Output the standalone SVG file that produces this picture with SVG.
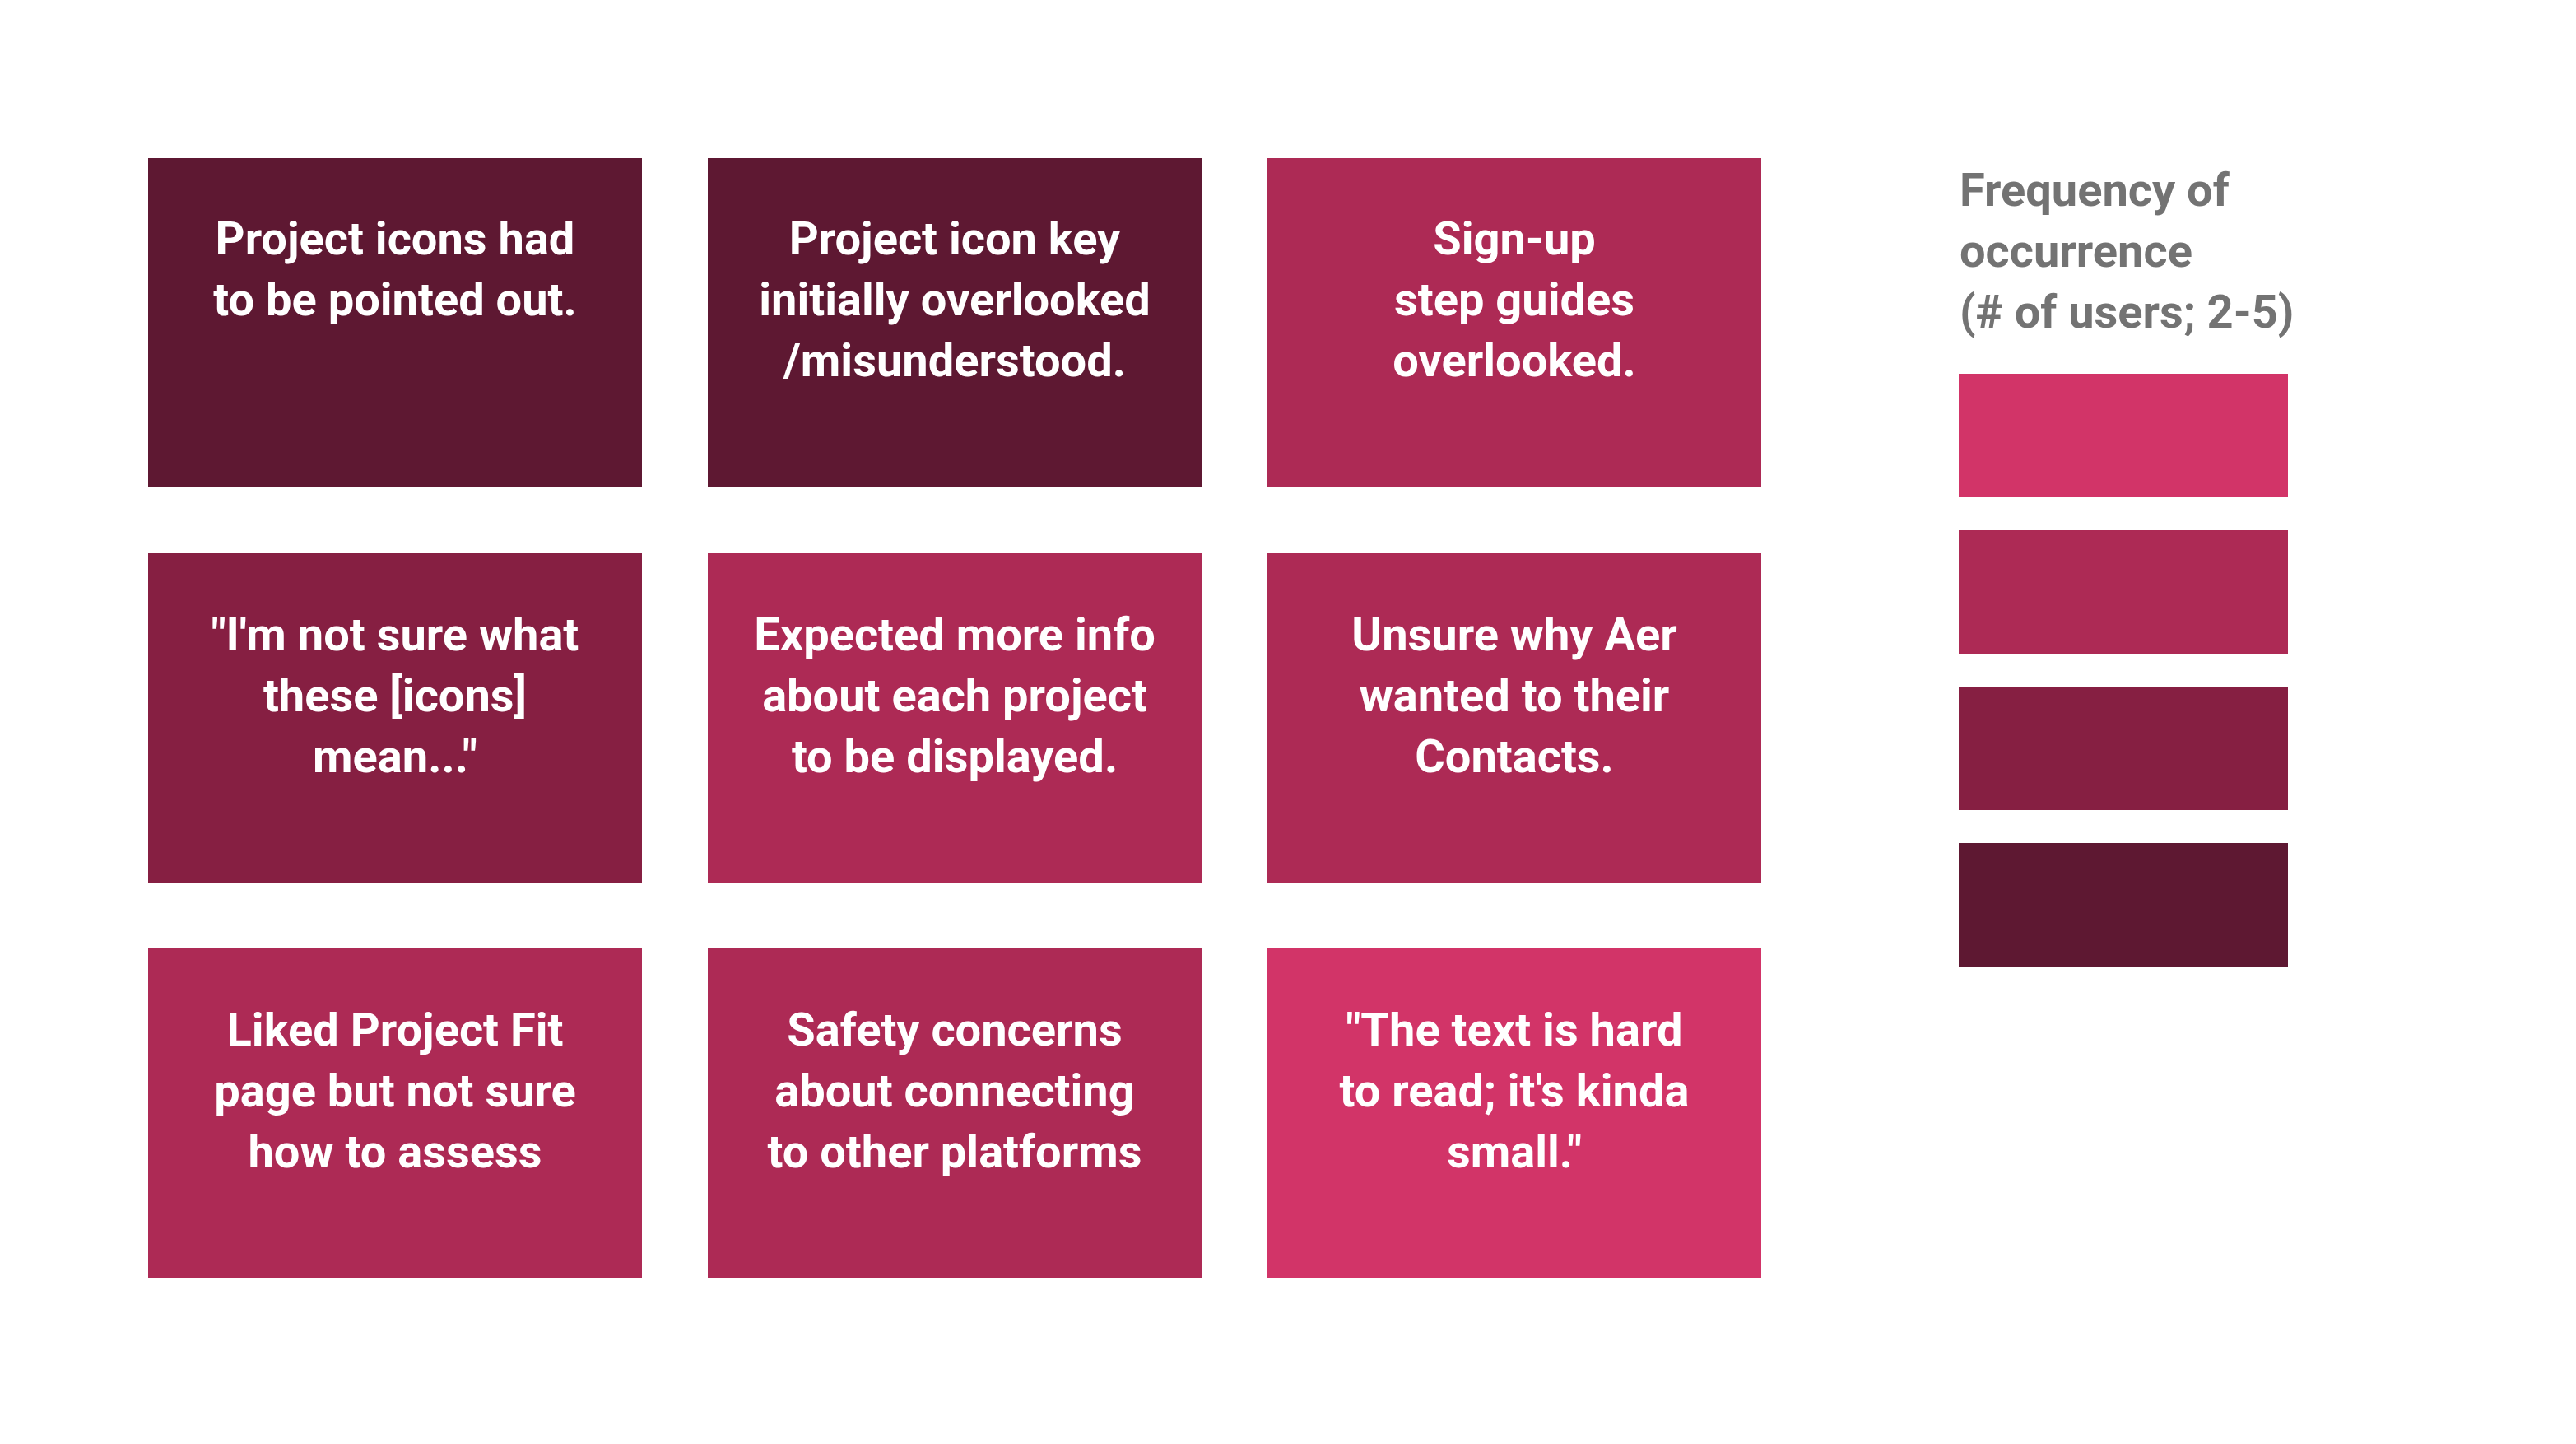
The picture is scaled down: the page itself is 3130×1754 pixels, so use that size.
<svg xmlns="http://www.w3.org/2000/svg" width="3130" height="1754" viewBox="0 0 3130 1754">
<style>
.t{font-family:Roboto,"Liberation Sans",sans-serif;font-weight:bold;font-size:56px;fill:#ffffff;text-anchor:middle}
.lg{font-family:Roboto,"Liberation Sans",sans-serif;font-weight:bold;font-size:56px;fill:#737373}
.c1{fill:#5e1832}.c2{fill:#861f42}.c3{fill:#ad2a55}.c4{fill:#d23468}
</style>
<rect width="3130" height="1754" fill="#ffffff"/>
<g id="n1"><rect class="c1" x="180" y="192" width="600" height="400"/><text class="t"><tspan x="480" y="309">Project icons had</tspan><tspan x="480" y="383">to be pointed out.</tspan></text></g>
<g id="n2"><rect class="c1" x="860" y="192" width="600" height="400"/><text class="t"><tspan x="1160" y="309">Project icon key</tspan><tspan x="1160" y="383">initially overlooked</tspan><tspan x="1160" y="457">/misunderstood.</tspan></text></g>
<g id="n3"><rect class="c3" x="1540" y="192" width="600" height="400"/><text class="t"><tspan x="1840" y="309">Sign-up</tspan><tspan x="1840" y="383">step guides</tspan><tspan x="1840" y="457">overlooked.</tspan></text></g>
<g id="n4"><rect class="c2" x="180" y="672" width="600" height="400"/><text class="t"><tspan x="480" y="790">"I'm not sure what</tspan><tspan x="480" y="864">these [icons]</tspan><tspan x="480" y="938">mean..."</tspan></text></g>
<g id="n5"><rect class="c3" x="860" y="672" width="600" height="400"/><text class="t"><tspan x="1160" y="790">Expected more info</tspan><tspan x="1160" y="864">about each project</tspan><tspan x="1160" y="938">to be displayed.</tspan></text></g>
<g id="n6"><rect class="c3" x="1540" y="672" width="600" height="400"/><text class="t"><tspan x="1840" y="790">Unsure why Aer</tspan><tspan x="1840" y="864">wanted to their</tspan><tspan x="1840" y="938">Contacts.</tspan></text></g>
<g id="n7"><rect class="c3" x="180" y="1152" width="600" height="400"/><text class="t"><tspan x="480" y="1270">Liked Project Fit</tspan><tspan x="480" y="1344">page but not sure</tspan><tspan x="480" y="1418">how to assess</tspan></text></g>
<g id="n8"><rect class="c3" x="860" y="1152" width="600" height="400"/><text class="t"><tspan x="1160" y="1270">Safety concerns</tspan><tspan x="1160" y="1344">about connecting</tspan><tspan x="1160" y="1418">to other platforms</tspan></text></g>
<g id="n9"><rect class="c4" x="1540" y="1152" width="600" height="400"/><text class="t"><tspan x="1840" y="1270">"The text is hard</tspan><tspan x="1840" y="1344">to read; it's kinda</tspan><tspan x="1840" y="1418">small."</tspan></text></g>
<g id="legend">
<text class="lg"><tspan x="2381" y="250">Frequency of</tspan><tspan x="2381" y="324">occurrence</tspan><tspan x="2381" y="398">(# of users; 2-5)</tspan></text>
<rect class="c4" x="2380" y="454" width="400" height="150"/>
<rect class="c3" x="2380" y="644" width="400" height="150"/>
<rect class="c2" x="2380" y="834" width="400" height="150"/>
<rect class="c1" x="2380" y="1024" width="400" height="150"/>
</g>
<g id="connectors"></g>
</svg>
